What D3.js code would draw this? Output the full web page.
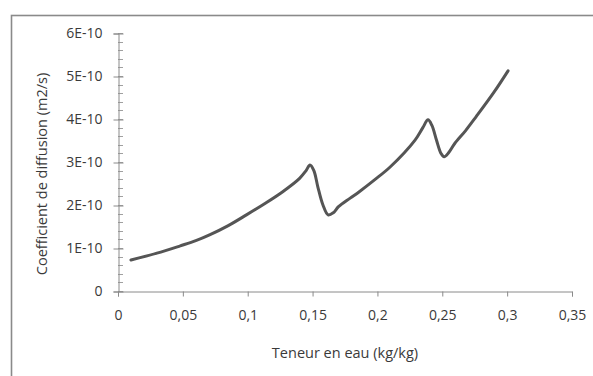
<!DOCTYPE html>
<html>
<head>
<meta charset="utf-8">
<script src="https://cdn.jsdelivr.net/npm/d3@7"></script>
<style>
  body { margin: 0; background: #fff; }
  text { font-family: "Open Sans", sans-serif; fill: #3a3a3a; }
</style>
</head>
<body>
<div id="chart"></div>
<script>
// Teneur en eau (kg/kg)
var teneur = [0.01, 0.03, 0.048, 0.06, 0.071, 0.085, 0.099, 0.113, 0.127, 0.140, 0.145, 0.148, 0.151, 0.154, 0.158, 0.162, 0.166, 0.170, 0.179, 0.186, 0.198, 0.210, 0.229, 0.235, 0.239, 0.242, 0.2455, 0.249, 0.2514, 0.255, 0.2596, 0.268, 0.276, 0.290, 0.3007];
// Coefficient de diffusion (m2/s), en 1E-10
var coef = [0.72, 0.88, 1.05, 1.17, 1.31, 1.52, 1.77, 2.03, 2.31, 2.62, 2.80, 2.93, 2.80, 2.43, 2.00, 1.77, 1.82, 1.96, 2.16, 2.31, 2.59, 2.89, 3.51, 3.80, 3.98, 3.85, 3.51, 3.20, 3.12, 3.22, 3.43, 3.73, 4.05, 4.63, 5.12];

var xTicks = [0, 0.05, 0.1, 0.15, 0.2, 0.25, 0.3, 0.35];
var yTicks = [0, 1, 2, 3, 4, 5, 6];

var width = 593, height = 376;
var margin = { left: 118, right: 21, top: 33, bottom: 85 };

var svg = d3.select("#chart").append("svg")
    .attr("width", width)
    .attr("height", height);

// outer frame (right and bottom fall outside the picture)
svg.append("rect")
    .attr("x", 11.5).attr("y", 15.5)
    .attr("width", 600).attr("height", 400)
    .attr("fill", "#fff")
    .attr("stroke", "#8a8a8a")
    .attr("stroke-width", 1.6);

var x = d3.scaleLinear().domain([0, 0.35]).range([margin.left, width - margin.right]);
var y = d3.scaleLinear().domain([0, 6]).range([height - margin.bottom, margin.top]);

// minor y ticks
var minor = d3.range(0, 6.001, 0.2);
svg.append("g")
    .selectAll("line")
    .data(minor)
    .enter().append("line")
    .attr("x1", margin.left).attr("x2", margin.left + 5)
    .attr("y1", d => Math.round(y(d)) + 0.5).attr("y2", d => Math.round(y(d)) + 0.5)
    .attr("stroke", "#a0a0a0");

// y axis
var yAxis = svg.append("g")
    .attr("transform", "translate(" + (margin.left + 0.5) + ",0.5)")
    .call(d3.axisLeft(y).tickValues(yTicks).tickSize(5).tickPadding(11)
        .tickFormat(d => d === 0 ? "0" : d + "E-10"));
yAxis.selectAll(".tick line").attr("x2", -5).attr("x1", 5);

// x axis
var xAxis = svg.append("g")
    .attr("transform", "translate(0," + (y(0) + 0.5) + ")")
    .call(d3.axisBottom(x).tickValues(xTicks).tickSize(5).tickPadding(14)
        .tickFormat(d => d === 0 ? "0" : String(d).replace(".", ",")));

svg.selectAll(".domain").attr("stroke", "#8a8a8a");
svg.selectAll(".tick line").attr("stroke", "#8a8a8a");
svg.selectAll(".tick text").attr("font-size", "14px").attr("fill", "#3a3a3a")
    .attr("font-family", "Open Sans, sans-serif");

// curve
var pts = teneur.map((t, i) => [t, coef[i]]);
svg.append("path")
    .datum(pts)
    .attr("fill", "none")
    .attr("stroke", "#555")
    .attr("stroke-width", 3)
    .attr("stroke-linecap", "round")
    .attr("d", d3.line().x(d => x(d[0])).y(d => y(d[1])).curve(d3.curveCatmullRom));

// axis titles
svg.append("text")
    .attr("x", 345)
    .attr("y", 358)
    .attr("text-anchor", "middle")
    .attr("font-size", "14.5px")
    .text("Teneur en eau (kg/kg)");

svg.append("text")
    .attr("transform", "translate(47,174) rotate(-90)")
    .attr("text-anchor", "middle")
    .attr("font-size", "14.5px")
    .text("Coefficient de diffusion (m2/s)");
</script>
</body>
</html>
